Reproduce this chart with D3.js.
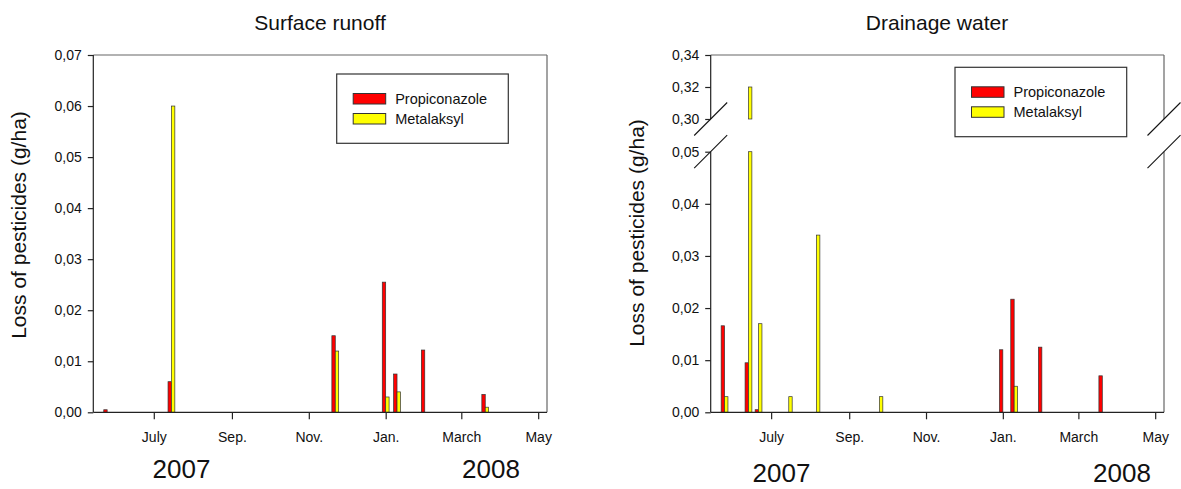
<!DOCTYPE html>
<html>
<head>
<meta charset="utf-8">
<script src="https://cdn.jsdelivr.net/npm/d3@7"></script>
<style>
  html, body { margin: 0; padding: 0; background: #fff; }
  svg { display: block; font-family: "Liberation Sans", Arial, sans-serif; }
</style>
</head>
<body>
<svg id="chart" width="1181" height="489"></svg>
<script>
// Month ticks on the date axis
const monthTicks = ["2007-07-01", "2007-09-01", "2007-11-01", "2008-01-01", "2008-03-01", "2008-05-01"];
const monthLabels = ["July", "Sep.", "Nov.", "Jan.", "March", "May"];
const dateDomain = ["2007-05-14", "2008-05-08"];

// Surface runoff (g/ha)
const runoffDates = ["2007-05-25", "2007-07-15", "2007-11-22", "2008-01-01", "2008-01-10", "2008-02-01", "2008-03-20"];
const runoffPropiconazole = [0.0005, 0.006, 0.015, 0.0255, 0.0075, 0.0122, 0.0035];
const runoffMetalaksyl = [0, 0.06, 0.012, 0.003, 0.004, 0, 0.001];
const runoffTicks = [0, 0.01, 0.02, 0.03, 0.04, 0.05, 0.06, 0.07];

// Drainage water (g/ha)
const drainageDates = ["2007-05-25", "2007-06-13", "2007-06-21", "2007-07-15", "2007-08-06", "2007-09-25", "2008-01-01", "2008-01-10", "2008-02-01", "2008-03-20"];
const drainagePropiconazole = [0.0166, 0.0095, 0.0005, 0, 0, 0, 0.012, 0.0217, 0.0125, 0.007];
const drainageMetalaksyl = [0.003, 0.32, 0.017, 0.003, 0.034, 0.003, 0, 0.005, 0, 0];
const drainageTicksLow = [0, 0.01, 0.02, 0.03, 0.04, 0.05];
const drainageTicksHigh = [0.30, 0.32, 0.34];

const seriesNames = ["Propiconazole", "Metalaksyl"];
const seriesColors = ["#ff0000", "#ffff00"];

const parse = d3.timeParse("%Y-%m-%d");
const locale = d3.formatLocale({ decimal: ",", thousands: ".", grouping: [3], currency: ["", ""] });
const fmt = locale.format(".2f");

const svg = d3.select("#chart");
const AXIS = "#222";
const FRAME = "#666";
const BAR_W = 3.4;
const FONT = "#111";

function xAxis(g, x, yBase) {
  const ax = d3.axisBottom(x)
    .tickValues(monthTicks.map(parse))
    .tickFormat((d, i) => monthLabels[i])
    .tickSizeOuter(0).tickSizeInner(7).tickPadding(13);
  const a = g.append("g").attr("transform", `translate(0,${yBase})`).call(ax);
  a.select(".domain").remove();
  a.selectAll(".tick line").attr("stroke", AXIS).attr("stroke-width", 1.2);
  a.selectAll(".tick text").attr("font-size", 14).attr("fill", FONT)
    .attr("font-family", "Liberation Sans, Arial, sans-serif");
  g.append("line").attr("x1", x.range()[0]).attr("x2", x.range()[1])
    .attr("y1", yBase).attr("y2", yBase).attr("stroke", AXIS).attr("stroke-width", 1.3);
}

function yAxis(g, y, ticks, x0) {
  const ax = d3.axisLeft(y).tickValues(ticks).tickFormat(fmt)
    .tickSizeOuter(0).tickSizeInner(5.5).tickPadding(6);
  const a = g.append("g").attr("transform", `translate(${x0},0)`).call(ax);
  a.select(".domain").remove();
  a.selectAll(".tick line").attr("stroke", AXIS).attr("stroke-width", 1.2);
  a.selectAll(".tick text").attr("font-size", 14).attr("fill", FONT)
    .attr("font-family", "Liberation Sans, Arial, sans-serif");
}

function legend(g, x0, y0, w, h) {
  g.append("rect").attr("x", x0).attr("y", y0).attr("width", w).attr("height", h)
    .attr("fill", "#fff").attr("stroke", "#333").attr("stroke-width", 1.2);
  seriesNames.forEach((name, i) => {
    const sy = y0 + 19.5 + i * 20;
    g.append("rect").attr("x", x0 + 16.5).attr("y", sy).attr("width", 32.5).attr("height", 10.5)
      .attr("fill", seriesColors[i]).attr("stroke", "#333").attr("stroke-width", 1);
    g.append("text").attr("x", x0 + 58.5).attr("y", sy + 5.25 + 5.2)
      .attr("font-size", 14.5).attr("fill", FONT).text(name);
  });
}

function titles(cx, title, ycx, yLabelY, years) {
  svg.append("text").attr("x", cx).attr("y", 30).attr("text-anchor", "middle")
    .attr("font-size", 21).attr("fill", FONT).text(title);
  svg.append("text").attr("transform", `translate(${ycx},${yLabelY}) rotate(-90)`)
    .attr("text-anchor", "middle").attr("dy", "0.35em")
    .attr("font-size", 21).attr("fill", FONT).text("Loss of pesticides (g/ha)");
  years.forEach(yr => {
    svg.append("text").attr("x", yr.x).attr("y", yr.y).attr("text-anchor", "middle")
      .attr("font-size", 26).attr("fill", FONT).text(yr.t);
  });
}

function bars(g, x, dates, values, seriesIdx, yFn) {
  dates.forEach((ds, i) => {
    const v = values[i];
    if (!v) return;
    const cx = x(parse(ds));
    const bx = seriesIdx === 0 ? cx - BAR_W : cx;
    yFn(v).forEach(seg => {
      g.append("rect").attr("x", bx).attr("y", seg[0]).attr("width", BAR_W)
        .attr("height", Math.max(0.5, seg[1] - seg[0]))
        .attr("fill", seriesColors[seriesIdx]).attr("stroke", "#333").attr("stroke-width", 0.7);
    });
  });
}

// ---------- Surface runoff ----------
(function () {
  const L = 93.3, R = 547, T = 55, B = 412.3;
  const x = d3.scaleTime().domain(dateDomain.map(parse)).range([L, R]);
  const y = d3.scaleLinear().domain([0, 0.07]).range([B, T]);
  const g = svg.append("g");

  bars(g, x, runoffDates, runoffPropiconazole, 0, v => [[y(v), y(0)]]);
  bars(g, x, runoffDates, runoffMetalaksyl, 1, v => [[y(v), y(0)]]);

  // frame
  g.append("line").attr("x1", L).attr("x2", R).attr("y1", T).attr("y2", T).attr("stroke", FRAME).attr("stroke-width", 1.2);
  g.append("line").attr("x1", R).attr("x2", R).attr("y1", T).attr("y2", B).attr("stroke", FRAME).attr("stroke-width", 1.2);
  g.append("line").attr("x1", L).attr("x2", L).attr("y1", T).attr("y2", B).attr("stroke", AXIS).attr("stroke-width", 1.2);

  yAxis(g, y, runoffTicks, L);
  xAxis(g, x, B);
  legend(g, 336.7, 74, 171.6, 69.3);
  titles(320, "Surface runoff", 19, 225, [{ t: "2007", x: 181.5, y: 478 }, { t: "2008", x: 491, y: 478 }]);
})();

// ---------- Drainage water (broken value axis) ----------
(function () {
  const L = 710.7, R = 1164, T = 55, B = 412.3;
  const x = d3.scaleTime().domain(dateDomain.map(parse)).range([L, R]);
  const yLow = d3.scaleLinear().domain([0, 0.05]).range([B, 151.7]);
  const yHigh = d3.scaleLinear().domain([0.30, 0.34]).range([119, T]);
  const g = svg.append("g");

  const segs = v => v <= 0.05
    ? [[yLow(v), yLow(0)]]
    : [[yLow(0.05), yLow(0)], [yHigh(v), yHigh(0.30)]];
  bars(g, x, drainageDates, drainagePropiconazole, 0, segs);
  bars(g, x, drainageDates, drainageMetalaksyl, 1, segs);

  const brkTop = yHigh(0.30), brkBot = yLow(0.05);
  // frame and axes with the break gap
  g.append("line").attr("x1", L).attr("x2", R).attr("y1", T).attr("y2", T).attr("stroke", FRAME).attr("stroke-width", 1.2);
  [[R, FRAME], [L, AXIS]].forEach(([xx, c]) => {
    g.append("line").attr("x1", xx).attr("x2", xx).attr("y1", T).attr("y2", brkTop).attr("stroke", c).attr("stroke-width", 1.2);
    g.append("line").attr("x1", xx).attr("x2", xx).attr("y1", brkBot).attr("y2", B).attr("stroke", c).attr("stroke-width", 1.2);
    [brkTop, brkBot].forEach(yy => {
      g.append("line").attr("x1", xx - 16.5).attr("y1", yy + 16.5).attr("x2", xx + 16.5).attr("y2", yy - 16.5)
        .attr("stroke", "#111").attr("stroke-width", 1.1);
    });
  });

  yAxis(g, yLow, drainageTicksLow, L);
  yAxis(g, yHigh, drainageTicksHigh, L);
  xAxis(g, x, B);
  legend(g, 955, 67.3, 171.7, 69.4);
  titles(937, "Drainage water", 637, 233, [{ t: "2007", x: 781.5, y: 482 }, { t: "2008", x: 1122, y: 482 }]);
})();
</script>
</body>
</html>
